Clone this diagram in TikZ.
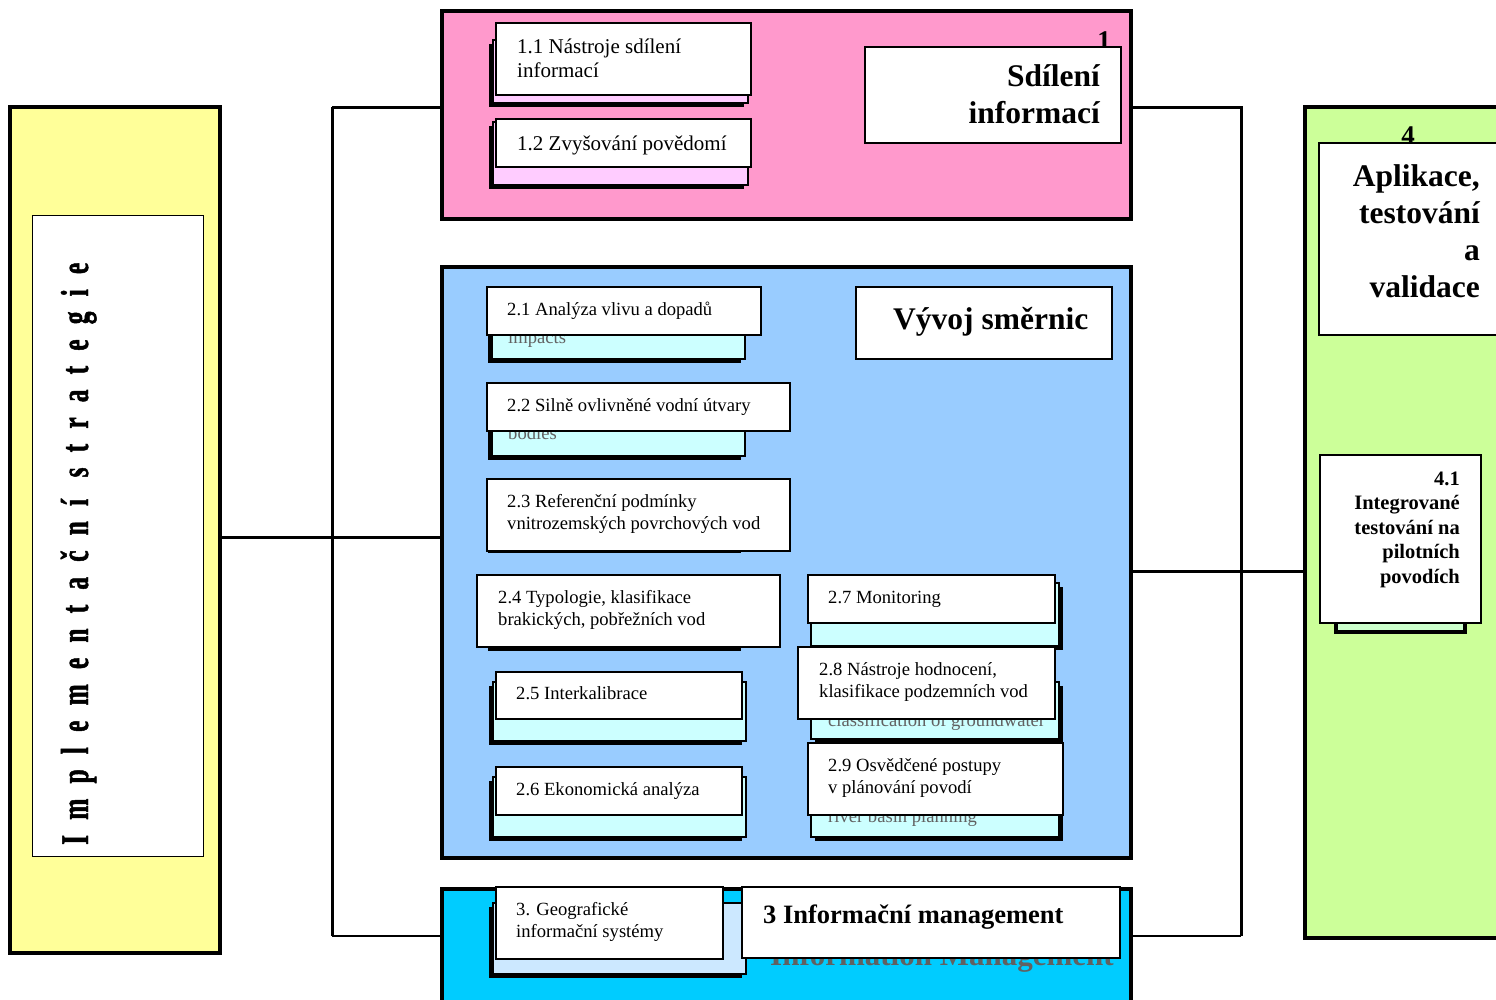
\documentclass[tikz,border=0pt]{standalone}
\usepackage{fontspec}
\setmainfont{Liberation Serif}
\newfontfamily\stratfont[FakeStretch=0.65,FakeBold=1.2,LetterSpace=39]{Liberation Serif Bold}

\definecolor{yellowbg}{HTML}{FFFF99}
\definecolor{pinkbg}{HTML}{FF99CC}
\definecolor{pinklt}{HTML}{FFCCFF}
\definecolor{bluebg}{HTML}{99CCFF}
\definecolor{cyanlt}{HTML}{CCFFFF}
\definecolor{cyanbg}{HTML}{00CCFF}
\definecolor{skylt}{HTML}{CCE8FF}
\definecolor{greenbg}{HTML}{CCFF99}
\definecolor{greenlt}{HTML}{CCFFCC}

% multi-line text whose base is the first line's baseline
\newcommand{\lstack}[1]{\begin{tabular}[t]{@{}l@{}}#1\end{tabular}}
\newcommand{\rstack}[1]{\begin{tabular}[t]{@{}r@{}}#1\end{tabular}}

% rectangle node given by its corners: style, name, x1, y1, x2, y2
\newcommand{\rectnode}[6]{%
  \node[#1, minimum width={#5pt-#3pt}, minimum height={#6pt-#4pt}] (#2) at (#3,#4) {};}

% tab card lying behind a white box, shadow to the lower left / lower right
\newcommand{\cardL}[5]{%
  \fill[black] (#1-4,#2+4) rectangle (#3-4,#4+4);
  \filldraw[fill=#5, draw=black, line width=1.3pt] (#1,#2) rectangle (#3,#4);}
\newcommand{\cardR}[5]{%
  \fill[black] (#1+4,#2+4) rectangle (#3+4,#4+4);
  \filldraw[fill=#5, draw=black, line width=1.3pt] (#1,#2) rectangle (#3,#4);}

\tikzset{
  mainbox/.style={draw=black, line width=3.5pt, inner sep=0pt, outer sep=0pt, anchor=north west},
  whitebox/.style={draw=black, fill=white, line width=1.3pt, inner sep=0pt, outer sep=0pt, anchor=north west},
  itemtxt/.style={anchor=base west, inner sep=0pt, font=\fontsize{18.6}{22}\selectfont},
  pinktxt/.style={anchor=base west, inner sep=0pt, font=\fontsize{21}{24}\selectfont},
  headtxt/.style={inner sep=0pt, font=\bfseries\fontsize{31.5}{37}\selectfont},
  smallhead/.style={anchor=base east, inner sep=0pt, font=\bfseries\fontsize{20.5}{24.5}\selectfont},
  ghost/.style={anchor=base west, inner sep=0pt, text=black!62},
  wire/.style={draw=black, line width=3pt},
  thinwire/.style={draw=black, line width=2pt},
}

\begin{document}
\begin{tikzpicture}[x=1pt,y=-1pt]
\useasboundingbox (0,0) rectangle (1496,999);
\fill[white] (0,0) rectangle (1496,999);
\clip (0,0) rectangle (1496,999);

% ---- panels ----
\rectnode{mainbox, fill=yellowbg}{yel}{10}{107}{220}{953}
\rectnode{mainbox, fill=pinkbg}{pink}{442}{11}{1131}{219}
\rectnode{mainbox, fill=bluebg}{blue}{442}{267}{1131}{858}
\rectnode{mainbox, fill=cyanbg}{cyanp}{442}{889}{1131}{1012}
\rectnode{mainbox, fill=greenbg}{green}{1305}{107}{1512}{938}

% ---- connectors ----
\coordinate (jL1) at (332,107);
\coordinate (jL2) at (332,537);
\coordinate (jL3) at (332,936);
\coordinate (jR1) at (1241,107);
\coordinate (jR2) at (1241,571);
\coordinate (jR3) at (1241,936);
\draw[wire] (yel.east |- jL2) -- (jL2) -- (blue.west |- jL2);
\draw[wire] (jL1) -- (jL3);
\draw[wire] (jL1) -- (pink.west |- jL1);
\draw[thinwire] (jL3) -- (cyanp.west |- jL3);
\draw[wire] (pink.east |- jR1) -- (jR1) -- (jR3);
\draw[thinwire] (jR3) -- (cyanp.east |- jR3);
\draw[wire] (blue.east |- jR2) -- (green.west |- jR2);

% ---- strategy column ----
\rectnode{draw=black, fill=white, line width=1.2pt, inner sep=0pt, anchor=north west}{stratbox}{32}{215}{203}{856}
\node[rotate=90, anchor=base west, inner sep=0pt,
      font=\stratfont\fontsize{39}{39}\selectfont] (tstrat) at (88,845) {Implementační strategie};

% ---- 1 Sdílení informací ----
\node[anchor=base east, inner sep=0pt, font=\bfseries\fontsize{27}{27}\selectfont] (n1) at (1111,49) {1};
\cardL{493}{40}{748}{103}{pinklt}
\cardL{493}{122}{748}{185}{pinklt}
\rectnode{whitebox}{b11}{496}{23}{751}{95}
\rectnode{whitebox}{b12}{496}{119}{751}{167}
\rectnode{whitebox}{sdil}{865}{47}{1121}{143}
\node[pinktxt] (t11) at (517,53) {\lstack{1.1 Nástroje sdílení\\informací}};
\node[pinktxt] (t12) at (517,150) {1.2 Zvyšování povědomí};
\node[headtxt, anchor=base east] (tsdil) at (1100,86) {\rstack{Sdílení\\informací}};

% ---- 2 Vývoj směrnic ----
\cardL{492}{300}{745}{359}{cyanlt}
\cardL{492}{396}{745}{456}{cyanlt}
\cardL{492}{495}{745}{549}{cyanlt}
\cardL{492}{595}{745}{647}{cyanlt}
\cardL{493}{682}{746}{741}{cyanlt}
\cardL{493}{777}{746}{837}{cyanlt}
\cardR{811}{583}{1059}{646}{cyanlt}
\cardR{811}{682}{1059}{739}{cyanlt}
\cardR{811}{780}{1059}{837}{cyanlt}
\node[ghost, font=\fontsize{18.6}{22}\selectfont] (g21) at (508,343) {impacts};
\node[ghost, font=\fontsize{18.6}{22}\selectfont] (g22) at (508,439) {bodies};
\node[ghost, font=\fontsize{18.6}{22}\selectfont] (g28) at (828,726) {classification of groundwater};
\node[ghost, font=\fontsize{18.6}{22}\selectfont] (g29) at (828,822) {river basin planning};

\rectnode{whitebox}{b21}{487}{287}{761}{335}
\rectnode{whitebox}{b22}{487}{383}{790}{431}
\rectnode{whitebox}{b23}{487}{479}{790}{551}
\rectnode{whitebox}{b24}{477}{575}{780}{647}
\rectnode{whitebox}{b25}{496}{672}{742}{719}
\rectnode{whitebox}{b26}{496}{767}{742}{815}
\rectnode{whitebox}{b27}{808}{575}{1055}{623}
\rectnode{whitebox}{b28}{798}{647}{1055}{719}
\rectnode{whitebox}{b29}{808}{743}{1063}{815}
\rectnode{whitebox}{vyvoj}{856}{287}{1112}{359}

\node[itemtxt] (t21) at (507,315) {2.1 Analýza vlivu a dopadů};
\node[itemtxt] (t22) at (507,411) {2.2 Silně ovlivněné vodní útvary};
\node[itemtxt] (t23) at (507,507) {\lstack{2.3 Referenční podmínky\\vnitrozemských povrchových vod}};
\node[itemtxt] (t24) at (498,603) {\lstack{2.4 Typologie, klasifikace\\brakických, pobřežních vod}};
\node[itemtxt] (t25) at (516,699) {2.5 Interkalibrace};
\node[itemtxt] (t26) at (516,795) {2.6 Ekonomická analýza};
\node[itemtxt] (t27) at (828,603) {2.7 Monitoring};
\node[itemtxt] (t28) at (819,675) {\lstack{2.8 Nástroje hodnocení,\\klasifikace podzemních vod}};
\node[itemtxt] (t29) at (828,771) {\lstack{2.9 Osvědčené postupy\\v plánování povodí}};
\node[headtxt, anchor=base west] (tvyvoj) at (893,329) {Vývoj směrnic};

% ---- 3 Informační management ----
\cardL{493}{903}{746}{974}{skylt}
\node[ghost, font=\bfseries\fontsize{31}{31}\selectfont] (g3) at (770,965) {Information Management};
\rectnode{whitebox}{b3}{496}{887}{723}{959}
\rectnode{whitebox}{info}{742}{887}{1120}{958}
\node[itemtxt] (t3) at (516,915) {\lstack{3. Geografické\\informační systémy}};
\node[anchor=base west, inner sep=0pt, font=\bfseries\fontsize{26.5}{30}\selectfont] (tinfo) at (763,923) {3 Informační management};

% ---- 4 Aplikace, testování a validace ----
\node[anchor=base east, inner sep=0pt, font=\bfseries\fontsize{27}{27}\selectfont] (n4) at (1415,144) {4};
\filldraw[fill=greenlt, draw=black, line width=3.5pt] (1336,600) rectangle (1465,632);
\rectnode{whitebox}{apl}{1319}{143}{1512}{335}
\rectnode{whitebox}{b41}{1320}{455}{1481}{623}
\node[headtxt, anchor=base east] (tapl) at (1480,186) {\rstack{Aplikace,\\testování\\a\\validace}};
\node[smallhead] (t41) at (1460,485) {\rstack{4.1\\Integrované\\testování na\\pilotních\\povodích}};
\end{tikzpicture}
\end{document}
